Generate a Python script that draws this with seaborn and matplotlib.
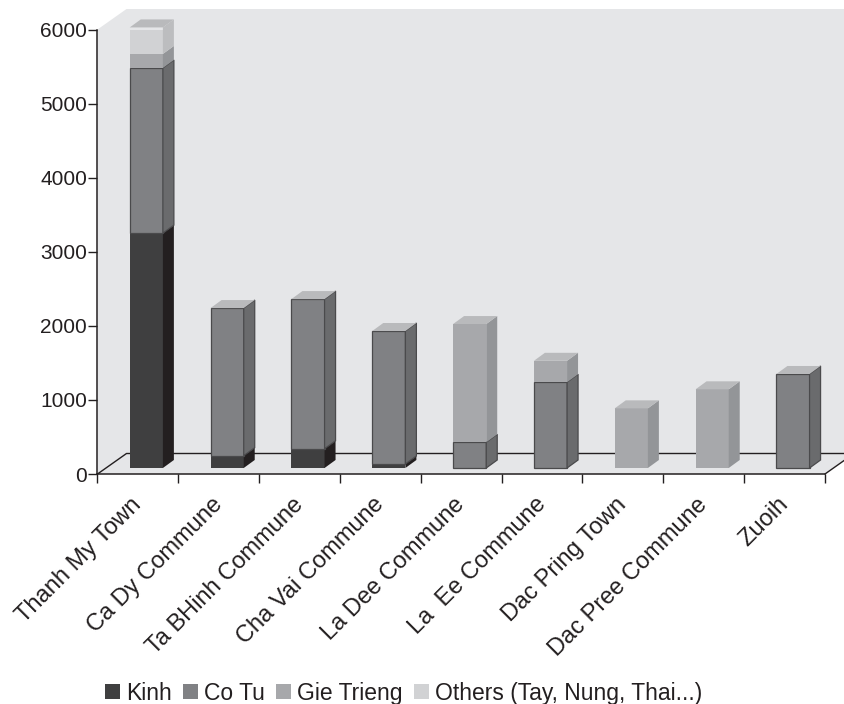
import matplotlib
matplotlib.use("Agg")
import matplotlib.pyplot as plt
from matplotlib.patches import Polygon, Patch
from matplotlib.transforms import ScaledTranslation
import numpy as np
import seaborn as sns

communes = ["Thanh My Town", "Ca Dy Commune", "Ta BHinh Commune", "Cha Vai Commune",
            "La Dee Commune", "La  Ee Commune", "Dac Pring Town", "Dac Pree Commune", "Zuoih"]
kinh = [3170, 166, 260, 54, 0, 0, 0, 0, 0]
co_tu = [2230, 1993, 2020, 1795, 347, 1158, 0, 0, 1269]
gie_trieng = [189, 0, 0, 0, 1596, 289, 805, 1062, 0]
others = [358, 0, 0, 0, 0, 0, 0, 0, 0]
y_ticks = [0, 1000, 2000, 3000, 4000, 5000, 6000]

series = [
    ("Kinh", kinh, "#3f3f40", "#231f20", "none"),
    ("Co Tu", co_tu, "#808184", "#6a6b6d", "#4a4a4c"),
    ("Gie Trieng", gie_trieng, "#a7a8ab", "#939598", "none"),
    ("Others (Tay, Nung, Thai...)", others, "#d1d2d4", "#bcbdbf", "none"),
]
TOP_COLOR = "#b9babc"
WALL_COLOR = "#e5e6e8"
INK = "#231f20"

W, H = 845, 704
LEFT, RIGHT, Y0, Y6000 = 97.5, 825, 474, 29.5
# pixels to data units
PX_X = 9 / (RIGHT - LEFT)
PX_Y = 6000 / (Y0 - Y6000)

sns.set_theme(style="white")
plt.rcParams["font.family"] = ["Liberation Sans", "DejaVu Sans"]

fig = plt.figure(figsize=(W / 100, H / 100), dpi=100)
ax = fig.add_axes([LEFT / W, 1 - Y0 / H, (RIGHT - LEFT) / W, (Y0 - Y6000) / H])
ax.patch.set_visible(False)

# walls and floor of the 3d box
wall_dx, wall_dy = 29 * PX_X, 20.5 * PX_Y
x0, x1 = -0.5, 8.5
ax.add_patch(Polygon([(x0, 0), (x0, 6000), (x0 + wall_dx, 6000 + wall_dy),
                      (x1 + wall_dx, 6000 + wall_dy), (x1 + wall_dx, wall_dy), (x1, 0)],
                     closed=True, fc=WALL_COLOR, ec="none", clip_on=False, zorder=0))
ax.plot([x0, x0 + wall_dx, x1 + wall_dx], [0, wall_dy, wall_dy], color=INK, lw=1,
        clip_on=False, zorder=1)
ax.plot([x1, x1 + wall_dx], [0, wall_dy], color=INK, lw=1, clip_on=False, zorder=1)

# bars
bar_shift = 8.4 * PX_X
bar_base = 6 * PX_Y
side_dx, side_dy = 11 * PX_X, 8 * PX_Y
bottom = np.zeros(len(communes))
totals = np.sum([s[1] for s in series], axis=0)
handles = []
for name, values, front, side, edge in series:
    sns.barplot(x=communes, y=values, color=front, saturation=1, width=0.41,
                errorbar=None, ax=ax, zorder=3)
    for i, bar in enumerate(ax.containers[-1]):
        if values[i] == 0:
            bar.set_visible(False)
            continue
        bar.set_x(bar.get_x() + bar_shift)
        bar.set_y(bottom[i] + bar_base)
        bar.set_edgecolor(edge)
        bar.set_linewidth(0.9)
        xl, xr = bar.get_x(), bar.get_x() + bar.get_width()
        yb, yt = bar.get_y(), bar.get_y() + bar.get_height()
        ax.add_patch(Polygon([(xr, yb), (xr + side_dx, yb + side_dy), (xr + side_dx, yt + side_dy), (xr, yt)],
                             closed=True, fc=side, ec=edge, lw=0.9, clip_on=False, zorder=3))
        if bottom[i] + values[i] == totals[i]:
            ax.add_patch(Polygon([(xl, yt), (xl + side_dx, yt + side_dy), (xr + side_dx, yt + side_dy), (xr, yt)],
                                 closed=True, fc=TOP_COLOR, ec="none", clip_on=False, zorder=3))
    bottom += np.array(values)
    handles.append(Patch(fc=front, ec="none", label=name))

# axes
ax.set_xlim(x0, x1)
ax.set_ylim(0, 6000)
ax.set_yticks(y_ticks)
for s in ["top", "right"]:
    ax.spines[s].set_visible(False)
for s in ["left", "bottom"]:
    ax.spines[s].set_color(INK)
    ax.spines[s].set_linewidth(1.1)
ax.tick_params(axis="y", left=True, length=6.5, width=1, color=INK, labelsize=15, labelcolor=INK, pad=1)
ax.set_xticks(np.arange(-0.5, 9, 1), minor=True)
ax.tick_params(axis="x", which="minor", bottom=True, length=6.5, width=1, color=INK)
ax.tick_params(axis="x", which="major", bottom=False, length=0, pad=14)
ax.set_xticks(np.arange(len(communes)))
ax.set_xticklabels(communes, rotation=45, ha="right", rotation_mode="anchor", fontsize=17, color=INK)
for label in ax.get_xticklabels():
    label.set_transform(label.get_transform() + ScaledTranslation(-7.5 / 100, 0, fig.dpi_scale_trans))
ax.set_xlabel("")

fig.legend(handles=handles, loc="lower center", bbox_to_anchor=(403.5 / W, -3 / H), ncol=4, frameon=False,
           fontsize=16.5, labelcolor=INK, handlelength=0.66, handleheight=0.66, handletextpad=0.25,
           columnspacing=0.5, borderaxespad=0.0, borderpad=0.1)

fig.savefig("out.png", dpi=100)
